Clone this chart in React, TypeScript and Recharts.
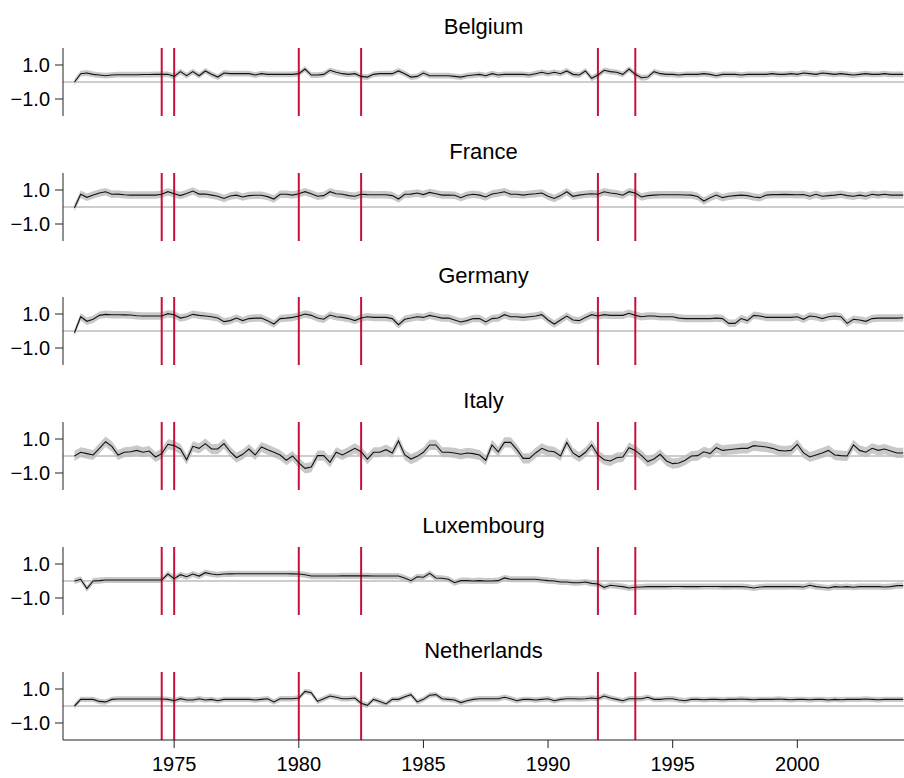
import React from 'react';
import { ComposedChart, Line, Area, XAxis, YAxis, ReferenceLine } from 'recharts';

const countries = ['Belgium', 'France', 'Germany', 'Italy', 'Luxembourg', 'Netherlands'];

// quarterly observations, 1971q1 .. 2004q2
const firstYear = 1971;

const belgium = [
  0, 0.49, 0.53, 0.45, 0.41, 0.37, 0.41, 0.43, 0.43, 0.43,
  0.43, 0.44, 0.44, 0.45, 0.45, 0.45, 0.33, 0.61, 0.37, 0.61,
  0.37, 0.65, 0.45, 0.29, 0.53, 0.49, 0.49, 0.49, 0.49, 0.41,
  0.49, 0.45, 0.45, 0.45, 0.45, 0.45, 0.49, 0.76, 0.41, 0.41,
  0.45, 0.69, 0.57, 0.49, 0.45, 0.49, 0.33, 0.29, 0.45, 0.49,
  0.49, 0.49, 0.65, 0.49, 0.29, 0.33, 0.53, 0.37, 0.37, 0.37,
  0.37, 0.33, 0.29, 0.37, 0.41, 0.45, 0.37, 0.49, 0.41, 0.45,
  0.45, 0.45, 0.45, 0.41, 0.49, 0.57, 0.49, 0.57, 0.49, 0.65,
  0.45, 0.41, 0.65, 0.22, 0.41, 0.69, 0.61, 0.57, 0.45, 0.76,
  0.45, 0.25, 0.29, 0.61, 0.49, 0.45, 0.45, 0.41, 0.45, 0.45,
  0.45, 0.49, 0.45, 0.37, 0.45, 0.45, 0.45, 0.41, 0.45, 0.45,
  0.45, 0.45, 0.49, 0.45, 0.45, 0.49, 0.45, 0.53, 0.49, 0.45,
  0.53, 0.49, 0.45, 0.49, 0.45, 0.41, 0.45, 0.49, 0.45, 0.45,
  0.49, 0.45, 0.45, 0.45,
];

const france = [
  -0.05, 0.75, 0.57, 0.7, 0.82, 0.9, 0.75, 0.76, 0.72, 0.7,
  0.7, 0.7, 0.7, 0.7, 0.75, 0.9, 0.78, 0.67, 0.8, 0.94,
  0.76, 0.76, 0.7, 0.63, 0.5, 0.65, 0.7, 0.59, 0.67, 0.69,
  0.69, 0.61, 0.47, 0.75, 0.75, 0.7, 0.78, 0.9, 0.78, 0.63,
  0.67, 0.9, 0.78, 0.75, 0.67, 0.63, 0.75, 0.73, 0.72, 0.72,
  0.72, 0.67, 0.47, 0.75, 0.76, 0.82, 0.73, 0.86, 0.78, 0.7,
  0.7, 0.69, 0.55, 0.69, 0.75, 0.7, 0.59, 0.76, 0.82, 0.9,
  0.75, 0.75, 0.7, 0.75, 0.78, 0.82, 0.63, 0.5, 0.67, 0.9,
  0.63, 0.7, 0.75, 0.78, 0.75, 0.9, 0.82, 0.78, 0.69, 0.9,
  0.82, 0.59, 0.67, 0.7, 0.72, 0.72, 0.72, 0.72, 0.71, 0.7,
  0.62, 0.35, 0.55, 0.7, 0.55, 0.63, 0.67, 0.7, 0.67, 0.59,
  0.55, 0.7, 0.73, 0.73, 0.74, 0.73, 0.72, 0.73, 0.63, 0.75,
  0.63, 0.67, 0.7, 0.75, 0.67, 0.63, 0.7, 0.63, 0.75, 0.7,
  0.75, 0.7, 0.7, 0.7,
];

const germany = [
  -0.1, 0.84, 0.57, 0.69, 0.92, 0.98, 0.96, 0.96, 0.95, 0.94,
  0.9, 0.88, 0.88, 0.88, 0.88, 1.02, 0.96, 0.76, 0.84, 0.98,
  0.92, 0.88, 0.84, 0.76, 0.55, 0.61, 0.76, 0.61, 0.73, 0.76,
  0.76, 0.61, 0.41, 0.73, 0.76, 0.8, 0.88, 1.0, 0.92, 0.76,
  0.69, 0.94, 0.84, 0.8, 0.73, 0.61, 0.76, 0.84, 0.8, 0.8,
  0.8, 0.73, 0.37, 0.69, 0.76, 0.84, 0.8, 0.92, 0.84, 0.76,
  0.76, 0.65, 0.53, 0.61, 0.73, 0.73, 0.53, 0.73, 0.76, 0.96,
  0.84, 0.84, 0.8, 0.84, 0.88, 0.96, 0.65, 0.41, 0.65, 0.88,
  0.65, 0.61, 0.8, 0.96, 0.88, 0.96, 0.92, 0.92, 0.92, 1.04,
  0.92, 0.84, 0.88, 0.88, 0.84, 0.84, 0.84, 0.76, 0.73, 0.73,
  0.73, 0.73, 0.73, 0.76, 0.73, 0.45, 0.45, 0.73, 0.61, 0.92,
  0.88, 0.8, 0.8, 0.8, 0.8, 0.8, 0.84, 0.69, 0.88, 0.84,
  0.73, 0.84, 0.88, 0.84, 0.45, 0.69, 0.65, 0.57, 0.73, 0.76,
  0.76, 0.76, 0.76, 0.78,
];

const italy = [
  0, 0.22, 0.14, 0.06, 0.45, 0.84, 0.57, 0.06, 0.22, 0.25,
  0.33, 0.22, 0.29, -0.06, 0.14, 0.69, 0.61, 0.41, -0.22, 0.57,
  0.45, 0.73, 0.41, 0.41, 0.73, 0.25, -0.1, 0.1, 0.41, 0.06,
  0.53, 0.37, 0.22, 0.06, -0.25, 0, -0.41, -0.73, -0.65, 0.02,
  0.02, -0.37, 0.22, 0.06, 0.25, 0.45, 0.25, -0.18, 0.22, 0.22,
  0.37, 0.18, 0.88, 0.06, -0.18, -0.02, 0.22, 0.65, 0.65, 0.22,
  0.22, 0.18, 0.1, 0.18, 0.14, 0.06, -0.25, 0.65, 0.25, 0.8,
  0.8, 0.37, -0.14, -0.14, 0.18, 0.45, 0.29, 0.25, 0, 0.8,
  0.18, -0.06, 0.22, 0.65, 0.06, -0.22, -0.29, -0.1, -0.06, 0.49,
  0.33, 0.02, -0.33, -0.18, 0.1, -0.29, -0.45, -0.41, -0.25, 0,
  0.02, 0.25, 0.14, 0.49, 0.33, 0.37, 0.41, 0.45, 0.45, 0.61,
  0.57, 0.53, 0.45, 0.33, 0.29, 0.33, 0.69, 0.18, -0.06, 0.06,
  0.18, 0.33, 0.06, 0.02, 0, 0.65, 0.33, 0.22, 0.45, 0.33,
  0.41, 0.29, 0.18, 0.18,
];

const luxembourg = [
  0, 0.1, -0.45, 0, 0.02, 0.06, 0.06, 0.06, 0.06, 0.06,
  0.06, 0.06, 0.06, 0.06, 0.06, 0.41, 0.14, 0.37, 0.25, 0.41,
  0.29, 0.49, 0.41, 0.37, 0.41, 0.42, 0.43, 0.43, 0.43, 0.43,
  0.43, 0.43, 0.43, 0.43, 0.43, 0.42, 0.41, 0.37, 0.29, 0.29,
  0.29, 0.29, 0.29, 0.3, 0.3, 0.3, 0.31, 0.3, 0.29, 0.29,
  0.29, 0.29, 0.29, 0.18, 0.02, 0.25, 0.22, 0.45, 0.18, 0.16,
  0.1, -0.1, 0.02, 0.02, 0, 0.02, 0, 0, 0.02, 0.18,
  0.1, 0.1, 0.1, 0.1, 0.1, 0.06, 0.02, 0, -0.06, -0.06,
  -0.1, -0.1, -0.06, -0.14, -0.18, -0.37, -0.25, -0.29, -0.33, -0.41,
  -0.37, -0.35, -0.33, -0.33, -0.33, -0.33, -0.32, -0.32, -0.33, -0.33,
  -0.33, -0.32, -0.32, -0.32, -0.33, -0.33, -0.32, -0.33, -0.35, -0.41,
  -0.35, -0.33, -0.33, -0.33, -0.33, -0.32, -0.33, -0.35, -0.25, -0.33,
  -0.37, -0.41, -0.33, -0.35, -0.33, -0.37, -0.33, -0.33, -0.33, -0.33,
  -0.35, -0.33, -0.27, -0.27,
];

const netherlands = [
  0, 0.39, 0.39, 0.39, 0.27, 0.24, 0.39, 0.41, 0.41, 0.41,
  0.41, 0.41, 0.41, 0.41, 0.41, 0.39, 0.31, 0.43, 0.35, 0.35,
  0.43, 0.35, 0.39, 0.31, 0.39, 0.39, 0.39, 0.39, 0.39, 0.35,
  0.39, 0.43, 0.24, 0.43, 0.43, 0.43, 0.47, 0.86, 0.78, 0.27,
  0.43, 0.59, 0.51, 0.43, 0.43, 0.47, 0.16, 0.04, 0.39, 0.27,
  0.12, 0.39, 0.39, 0.55, 0.67, 0.24, 0.39, 0.63, 0.67, 0.43,
  0.39, 0.35, 0.2, 0.31, 0.39, 0.43, 0.43, 0.43, 0.43, 0.51,
  0.43, 0.31, 0.39, 0.39, 0.35, 0.39, 0.43, 0.31, 0.39, 0.43,
  0.43, 0.41, 0.43, 0.47, 0.43, 0.59, 0.47, 0.39, 0.31, 0.43,
  0.43, 0.43, 0.51, 0.39, 0.39, 0.43, 0.43, 0.35, 0.31, 0.39,
  0.39, 0.37, 0.39, 0.39, 0.37, 0.39, 0.39, 0.41, 0.39, 0.37,
  0.39, 0.39, 0.39, 0.41, 0.39, 0.37, 0.39, 0.39, 0.37, 0.39,
  0.39, 0.35, 0.39, 0.37, 0.39, 0.39, 0.39, 0.41, 0.39, 0.37,
  0.39, 0.39, 0.39, 0.39,
];

const seriesByCountry = [belgium, france, germany, italy, luxembourg, netherlands];
// half width of the grey confidence band, per country
const bandHalfWidth = [0.17, 0.22, 0.22, 0.3, 0.18, 0.16];

const breakYears = [1974.5, 1975, 1980, 1982.5, 1992, 1993.5];
const xTicks = [1975, 1980, 1985, 1990, 1995, 2000];
const yTicks = [-1, 1];

const FONT = '"Liberation Sans", Arial, Helvetica, sans-serif';
const W = 904;
const PANEL_STEP = 124.7;
const X_DOMAIN: [number, number] = [1970.54, 2004.28];

function fmtY(v: number) {
  return v < 0 ? '\u2212' + Math.abs(v).toFixed(1) : v.toFixed(1);
}

function Panel({ idx, last }: { idx: number; last: boolean }) {
  const values = seriesByCountry[idx];
  const se = bandHalfWidth[idx];
  const data = values.map((v, i) => ({
    t: firstYear + i / 4,
    v,
    band: [v - se, v + se],
  }));
  const top = Math.round(idx * PANEL_STEP);
  const height = last ? 778 - top : 125;

  return (
    <div style={{ position: 'absolute', left: 0, top, width: W, height }}>
      <div
        style={{
          position: 'absolute',
          left: 63,
          width: W - 63,
          top: 16,
          fontSize: 22,
          lineHeight: '22px',
          textAlign: 'center',
          fontFamily: FONT,
          color: '#000',
        }}
      >
        {countries[idx]}
      </div>
      <ComposedChart
        width={W}
        height={height}
        data={data}
        margin={{ top: 48, right: 0, bottom: last ? 0 : 9, left: 0 }}
        style={{ position: 'absolute', left: 0, top: 0 }}
      >
        <XAxis
          type="number"
          dataKey="t"
          domain={X_DOMAIN}
          allowDataOverflow
          ticks={xTicks}
          hide={!last}
          height={38}
          tickSize={8}
          tickMargin={9}
          stroke="#222"
          tick={{ fill: '#000', fontSize: 20, fontFamily: FONT }}
          interval={0}
        />
        <YAxis
          type="number"
          domain={[-2, 2]}
          ticks={yTicks}
          width={63}
          tickSize={8}
          tickMargin={5}
          stroke="#222"
          tickFormatter={fmtY}
          tick={{ fill: '#000', fontSize: 20, fontFamily: FONT }}
          interval={0}
        />
        <Area
          type="linear"
          dataKey="band"
          stroke="none"
          fill="#c9c9c9"
          fillOpacity={1}
          isAnimationActive={false}
          dot={false}
          activeDot={false}
        />
        <ReferenceLine y={0} stroke="#bdbdbd" strokeWidth={1.5} />
        {breakYears.map((yr) => (
          <ReferenceLine key={yr} x={yr} stroke="#c8103a" strokeWidth={2} />
        ))}
        <Line
          type="linear"
          dataKey="v"
          stroke="#111"
          strokeWidth={1.1}
          dot={false}
          activeDot={false}
          isAnimationActive={false}
        />
      </ComposedChart>
    </div>
  );
}

export default function App() {
  return (
    <div style={{ position: 'absolute', left: 0, top: 0, width: W, height: 778, background: '#fff', overflow: 'hidden' }}>
      {countries.map((c, i) => (
        <Panel key={c} idx={i} last={i === countries.length - 1} />
      ))}
    </div>
  );
}
